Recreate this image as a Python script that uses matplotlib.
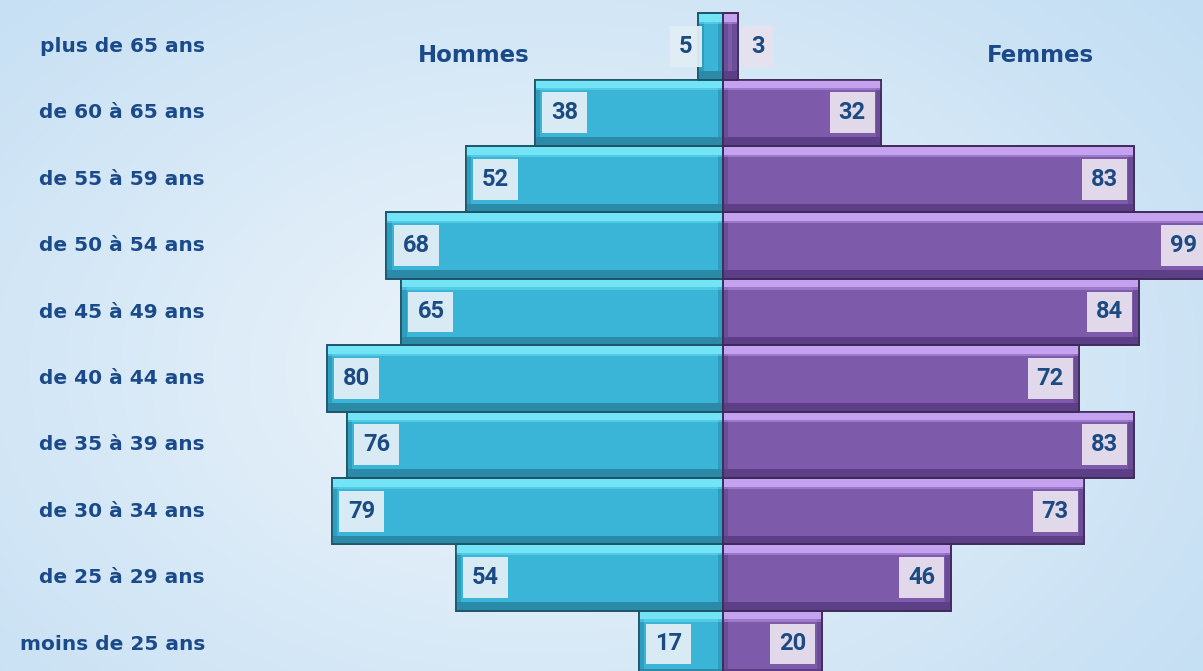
import numpy as np
import matplotlib.pyplot as plt
from matplotlib.transforms import blended_transform_factory

# tranches d'âge, du bas vers le haut
groupes = ["moins de 25 ans", "de 25 à 29 ans", "de 30 à 34 ans", "de 35 à 39 ans",
           "de 40 à 44 ans", "de 45 à 49 ans", "de 50 à 54 ans", "de 55 à 59 ans",
           "de 60 à 65 ans", "plus de 65 ans"]
hommes = [17, 54, 79, 76, 80, 65, 68, 52, 38, 5]
femmes = [20, 46, 73, 83, 72, 84, 99, 83, 32, 3]

W, H = 1203, 671
fig = plt.figure(figsize=(W / 100, H / 100), dpi=100)

# fond dégradé
bg = fig.add_axes([0, 0, 1, 1])
yy, xx = np.mgrid[0:1:300j, 0:1:500j]
r = np.sqrt(((xx - 0.45) / 0.7) ** 2 + ((yy - 0.55) / 0.85) ** 2)
r = np.clip(r, 0, 1)
c0 = np.array([238, 245, 251]) / 255
c1 = np.array([195, 222, 243]) / 255
img = c0[None, None, :] * (1 - r[..., None]) + c1[None, None, :] * r[..., None]
bg.imshow(img, aspect="auto", extent=[0, 1, 0, 1], origin="upper")
bg.axis("off")

ax = fig.add_axes([0, 0, 1, 1])
ax.patch.set_alpha(0)
ax.axis("off")
px = 4.95  # pixels par unité
ax.set_xlim(-723 / px, (W - 723) / px)
ax.set_ylim((644 - H) / 66.4, 644 / 66.4)

y = np.arange(len(groupes))
h = -np.array(hommes, dtype=float)
f = np.array(femmes, dtype=float)

styles = [
    (h, "#3BB5D7", "#72E4F6", "#2A8AA8", "#2F9DBE", "#1E5468"),
    (f, "#7D5BAA", "#C4A2F0", "#5C3F86", "#6C4D98", "#3D2A58"),
]
bev_y = 0.12
bev_x = 1.1
for vals, main, light, dark, side, edge in styles:
    sgn = np.sign(vals)
    ax.barh(y, vals, height=1, color=main, edgecolor=edge, linewidth=1.2, zorder=2)
    # faces latérales
    ax.barh(y, sgn * bev_x, height=1 - 0.02, color=side, linewidth=0, zorder=3)
    ax.barh(y, -sgn * bev_x, left=vals, height=1 - 0.02, color=side, linewidth=0, zorder=3)
    # face haute (claire) et basse (sombre)
    ax.barh(y + 0.5 - bev_y / 2 - 0.01, vals - sgn * 0.3, left=sgn * 0.15, height=bev_y,
            color=light, linewidth=0, zorder=4)
    ax.barh(y + 0.5 - bev_y * 1.1, vals - sgn * 0.3, left=sgn * 0.15, height=bev_y * 0.5,
            color=light, alpha=0.45, linewidth=0, zorder=4)
    ax.barh(y - 0.5 + bev_y / 2 + 0.01, vals - sgn * 0.3, left=sgn * 0.15, height=bev_y,
            color=dark, linewidth=0, zorder=4)
    ax.barh(y, vals, height=1, color="none", edgecolor=edge, linewidth=1.2, zorder=5)

# étiquettes de valeurs
txt = dict(fontsize=17, fontweight="bold", color="#1C4A82", ha="center", va="center",
           family=["Roboto", "DejaVu Sans"], zorder=6)
for i in y:
    if hommes[i] >= 10:
        xh = -hommes[i] + 6.0
    else:
        xh = -hommes[i] - 2.5
    ax.text(xh, i, str(hommes[i]),
            bbox=dict(boxstyle="square,pad=0.38", fc="#E2EEF5", ec="none", alpha=0.95), **txt)
    if femmes[i] >= 10:
        xf = femmes[i] - 5.9
    else:
        xf = femmes[i] + 4.0
    ax.text(xf, i, str(femmes[i]),
            bbox=dict(boxstyle="square,pad=0.38", fc="#E7E1EE", ec="none", alpha=0.95), **txt)

# libellés des tranches
trans = blended_transform_factory(ax.transAxes, ax.transData)
for i, g in enumerate(groupes):
    ax.text(205 / W, i, g, transform=trans, ha="right", va="center",
            fontsize=14.5, fontweight="bold", color="#1B4A8A", family="DejaVu Sans")

ax.text(474 / W, 1 - 55 / H, "Hommes", transform=ax.transAxes, ha="center", va="center",
        fontsize=16.5, fontweight="bold", color="#1B4A8A")
ax.text(1040 / W, 1 - 56 / H, "Femmes", transform=ax.transAxes, ha="center", va="center",
        fontsize=16.5, fontweight="bold", color="#1B4A8A")

fig.savefig("out.png", dpi=100)
